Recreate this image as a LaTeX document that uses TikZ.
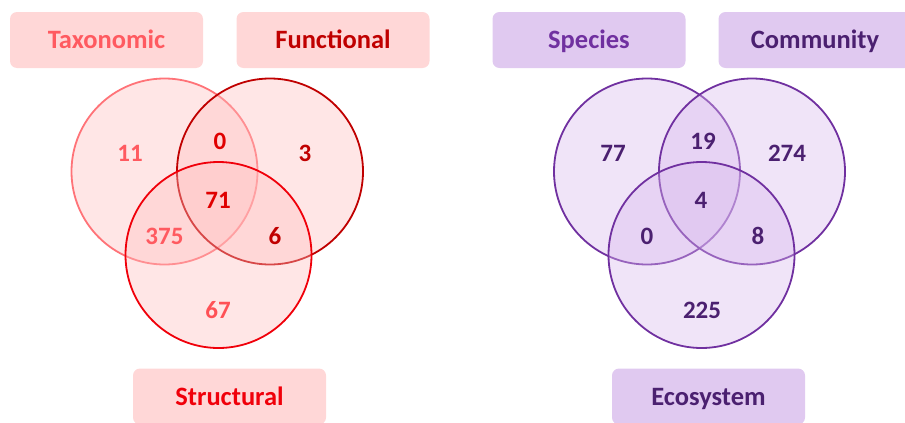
\documentclass[tikz,border=0pt]{standalone}
\usepackage{fontspec}
\setmainfont{Carlito}
\usetikzlibrary{positioning}

\definecolor{coral}{RGB}{255,90,96}
\definecolor{darkred}{RGB}{192,0,0}
\definecolor{brightred}{RGB}{240,0,10}
\definecolor{pinkbox}{RGB}{255,215,215}
\definecolor{pinkfill}{RGB}{255,190,190}
\definecolor{purple}{RGB}{112,48,160}
\definecolor{darkpurple}{RGB}{75,32,112}
\definecolor{lilacbox}{RGB}{224,201,240}
\definecolor{lilacfill}{RGB}{216,184,237}

\tikzset{
    setname/.style={rectangle, rounded corners=7pt, minimum width=193pt, minimum height=56pt,
        font=\fontsize{26.5}{30}\selectfont\bfseries, text height=17pt, text depth=0pt},
    redset/.style={setname, fill=pinkbox},
    purpleset/.style={setname, fill=lilacbox},
    venn/.style={circle, minimum size=186pt, inner sep=0pt, line width=1.8pt, fill opacity=0.38},
    count/.style={font=\fontsize{25}{30}\selectfont\bfseries, inner sep=1pt}
}

\begin{document}
\begin{tikzpicture}[x=1pt, y=-1pt]
    \useasboundingbox (0,0) rectangle (905,423);

    % left diagram
    \node[venn, draw=coral!85, fill=pinkfill] (tax) at (164.5,171.5) {};
    \node[venn, draw=darkred, fill=pinkfill] (fun) at (270,171.5) {};
    \node[venn, draw=brightred, fill=pinkfill] (str) at (218.5,255) {};

    \node[redset, text=coral] (taxname) at (106.5,40) {Taxonomic};
    \node[redset, text=darkred] (funname) at (333,40) {Functional};
    \node[redset, text=brightred] (strname) at (229.5,396.5) {Structural};

    \node[count, text=coral] (t) at (130,153) {11};
    \node[count, text=red!88!black] (tf) at (220,141) {0};
    \node[count, text=darkred] (f) at (305,153) {3};
    \node[count, text=red!88!black] (tfs) at (218,200) {71};
    \node[count, text=coral] (ts) at (164.5,236) {375};
    \node[count, text=darkred] (fs) at (275,236) {6};
    \node[count, text=coral!90!red] (s) at (218,310) {67};

    % right diagram
    \node[venn, draw=purple, fill=lilacfill] (spe) at (647,171.5) {};
    \node[venn, draw=purple, fill=lilacfill] (com) at (752,171.5) {};
    \node[venn, draw=purple, fill=lilacfill] (eco) at (701.5,255) {};

    \node[purpleset, text=purple] (spename) at (589,40) {Species};
    \node[purpleset, text=darkpurple] (comname) at (815,40) {Community};
    \node[purpleset, text=darkpurple] (econame) at (708.5,396.5) {Ecosystem};

    \node[count, text=darkpurple] (p) at (613,153) {77};
    \node[count, text=darkpurple] (pc) at (703,141) {19};
    \node[count, text=darkpurple] (c) at (787,153) {274};
    \node[count, text=darkpurple] (pce) at (701,200) {4};
    \node[count, text=darkpurple] (pe) at (647,236) {0};
    \node[count, text=darkpurple] (ce) at (758,236) {8};
    \node[count, text=darkpurple] (e) at (702,310) {225};
\end{tikzpicture}
\end{document}
